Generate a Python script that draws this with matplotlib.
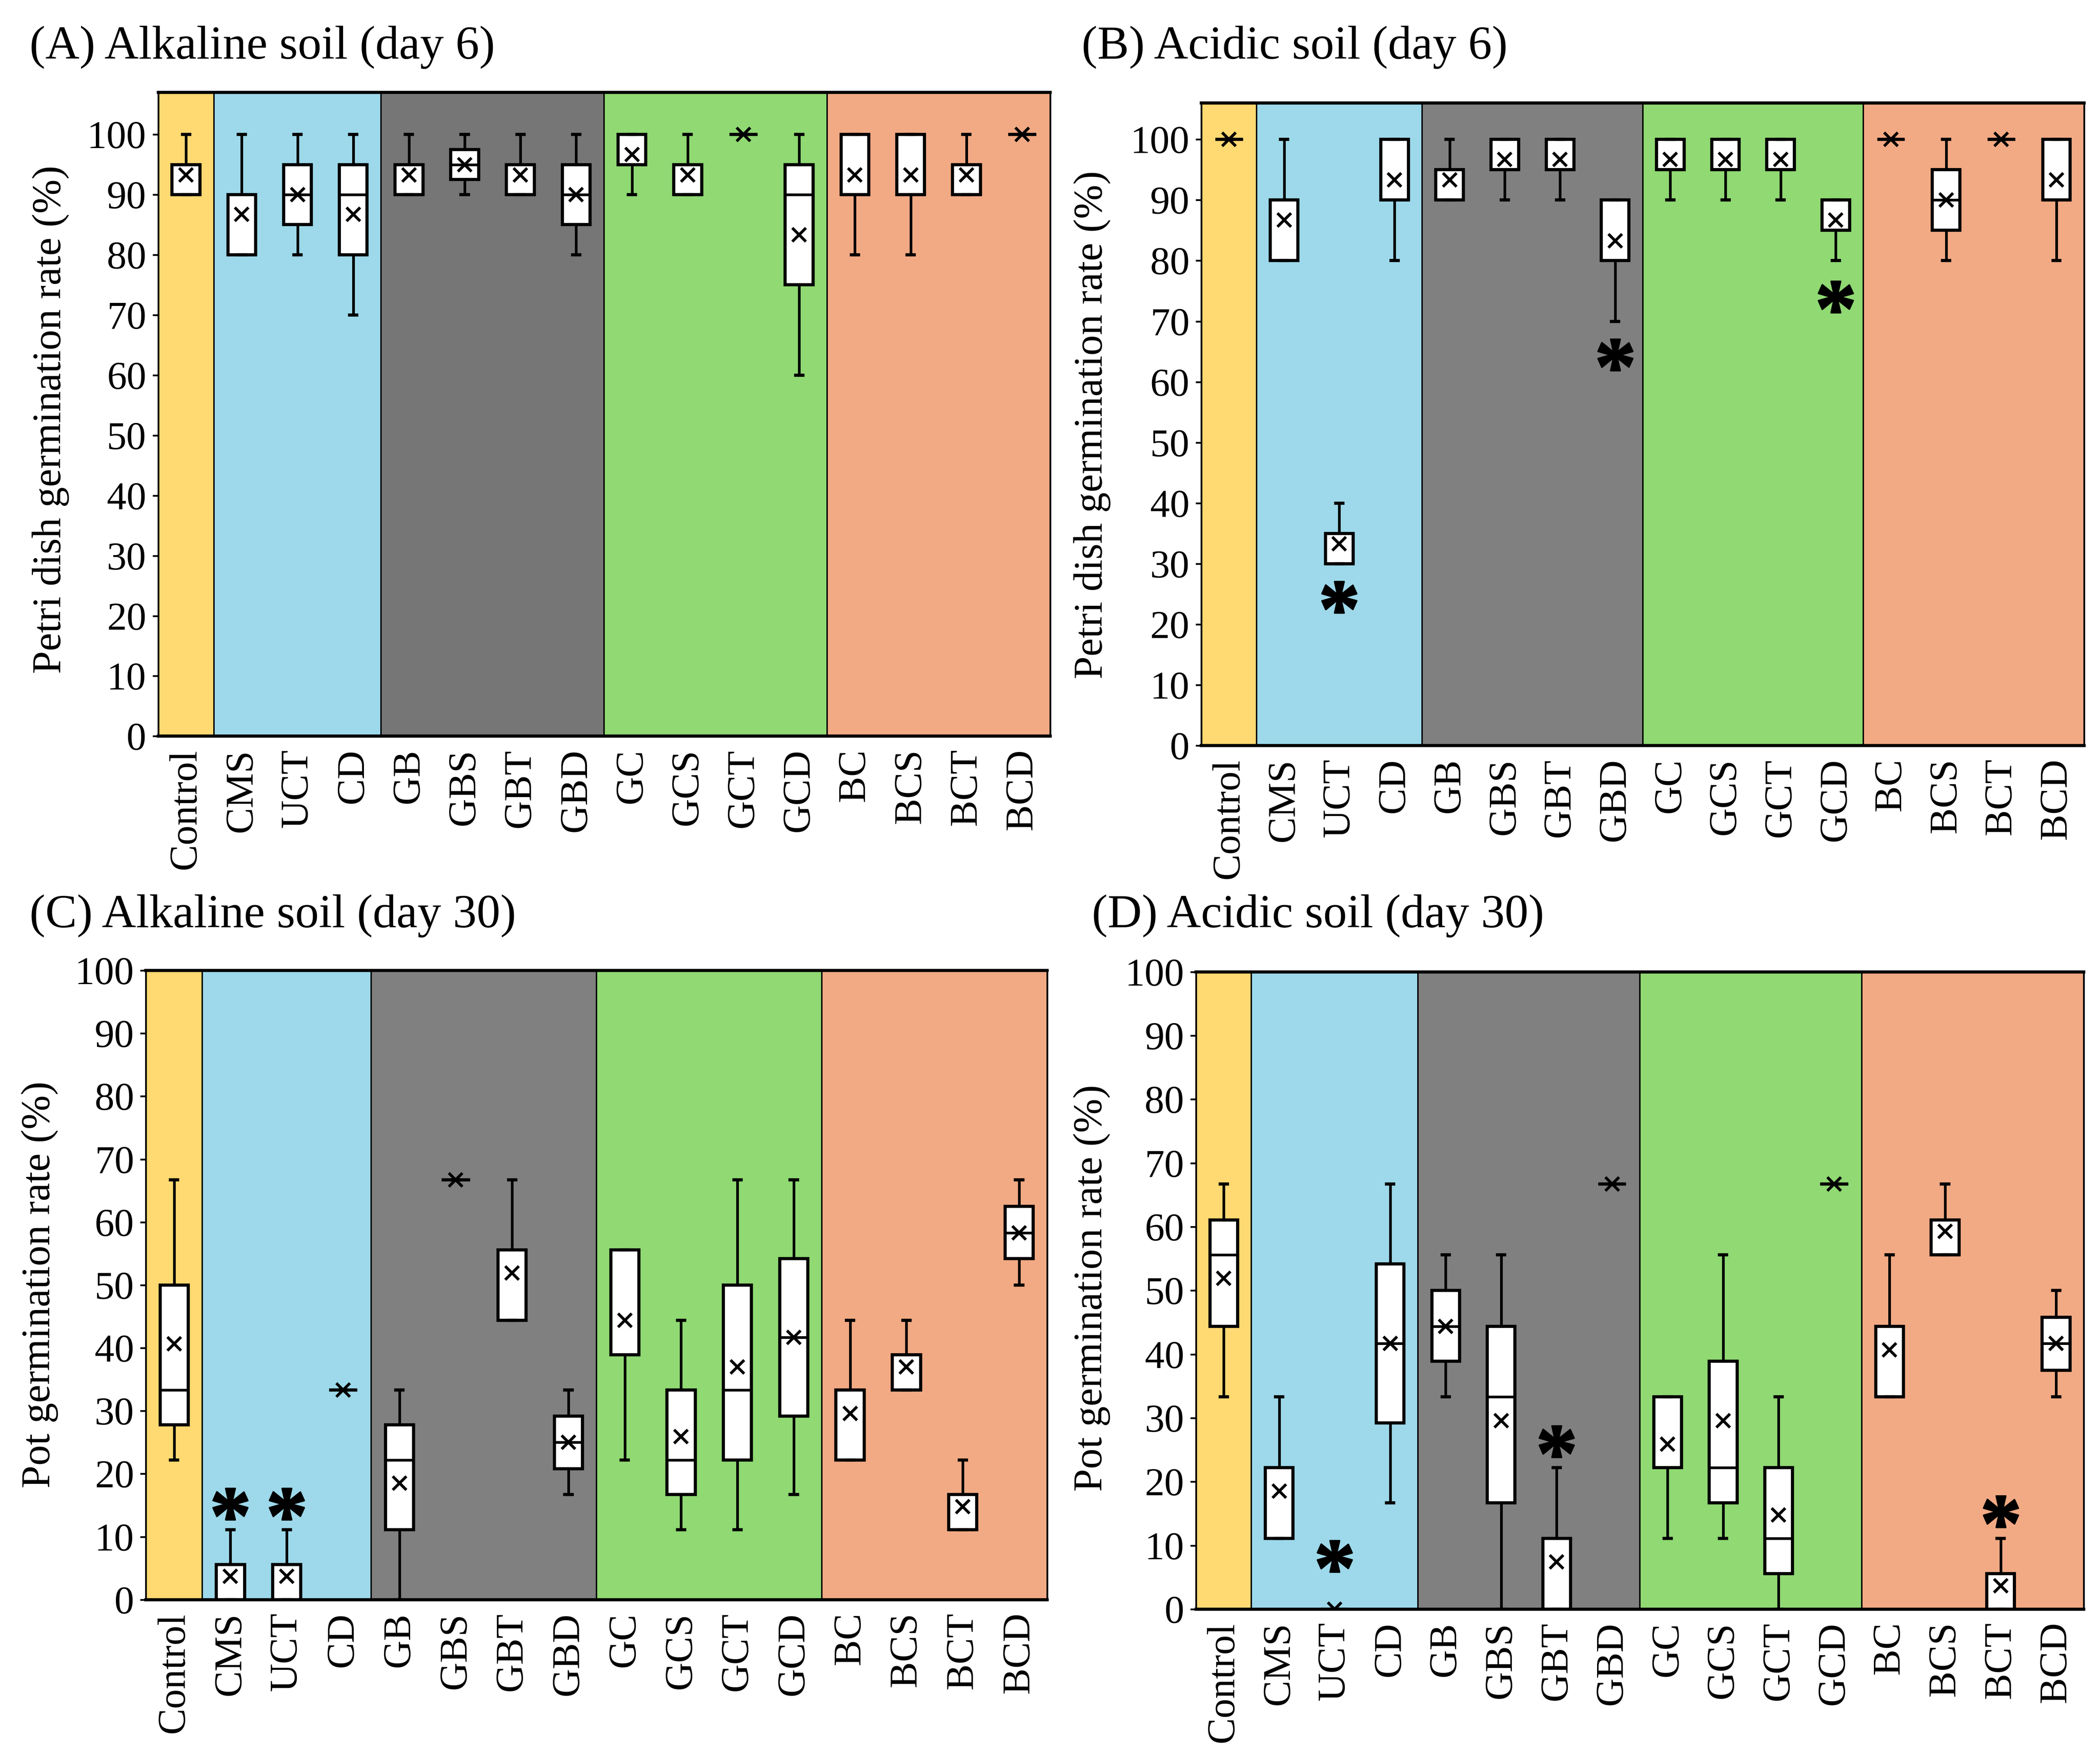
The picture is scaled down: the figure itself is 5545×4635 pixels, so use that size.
import numpy as np
import matplotlib
matplotlib.use('Agg')
import matplotlib.pyplot as plt
from matplotlib.textpath import TextPath
from matplotlib.font_manager import FontProperties
from matplotlib.path import Path

plt.rcParams['font.family'] = ['Liberation Serif', 'DejaVu Serif']

labels = ['Control', 'CMS', 'UCT', 'CD', 'GB', 'GBS', 'GBT', 'GBD',
          'GC', 'GCS', 'GCT', 'GCD', 'BC', 'BCS', 'BCT', 'BCD']

# (A) alkaline soil, day 6, petri dish
a_lo = [90, 80, 80, 70, 90, 90, 90, 80, 90, 90, 100, 60, 80, 80, 90, 100]
a_q1 = [90, 80, 85, 80, 90, 92.5, 90, 85, 95, 90, 100, 75, 90, 90, 90, 100]
a_med = [90, 80, 90, 90, 90, 95, 90, 90, 95, 90, 100, 90, 90, 90, 90, 100]
a_q3 = [95, 90, 95, 95, 95, 97.5, 95, 95, 100, 95, 100, 95, 100, 100, 95, 100]
a_hi = [100, 100, 100, 100, 100, 100, 100, 100, 100, 100, 100, 100, 100, 100, 100, 100]
a_mean = [93.3, 86.7, 90, 86.7, 93.3, 95, 93.3, 90, 96.7, 93.3, 100, 83.3, 93.3, 93.3, 93.3, 100]

# (B) acidic soil, day 6, petri dish
b_lo = [100, 80, 30, 80, 90, 90, 90, 70, 90, 90, 90, 80, 100, 80, 100, 80]
b_q1 = [100, 80, 30, 90, 90, 95, 95, 80, 95, 95, 95, 85, 100, 85, 100, 90]
b_med = [100, 80, 30, 90, 90, 95, 95, 80, 95, 95, 95, 85, 100, 90, 100, 90]
b_q3 = [100, 90, 35, 100, 95, 100, 100, 90, 100, 100, 100, 90, 100, 95, 100, 100]
b_hi = [100, 100, 40, 100, 100, 100, 100, 90, 100, 100, 100, 90, 100, 100, 100, 100]
b_mean = [100, 86.7, 33.3, 93.3, 93.3, 96.7, 96.7, 83.3, 96.7, 96.7, 96.7, 86.7, 100, 90, 100, 93.3]

# (C) alkaline soil, day 30, pot
c_lo = [22.2, 0, 0, 33.3, 0, 66.7, 44.4, 16.7, 22.2, 11.1, 11.1, 16.7, 22.2, 33.3, 11.1, 50]
c_q1 = [27.8, 0, 0, 33.3, 11.1, 66.7, 44.4, 20.8, 38.9, 16.7, 22.2, 29.2, 22.2, 33.3, 11.1, 54.2]
c_med = [33.3, 0, 0, 33.3, 22.2, 66.7, 44.4, 25, 38.9, 22.2, 33.3, 41.7, 22.2, 33.3, 11.1, 58.3]
c_q3 = [50, 5.6, 5.6, 33.3, 27.8, 66.7, 55.6, 29.2, 55.6, 33.3, 50, 54.2, 33.3, 38.9, 16.7, 62.5]
c_hi = [66.7, 11.1, 11.1, 33.3, 33.3, 66.7, 66.7, 33.3, 55.6, 44.4, 66.7, 66.7, 44.4, 44.4, 22.2, 66.7]
c_mean = [40.7, 3.7, 3.7, 33.3, 18.5, 66.7, 51.9, 25, 44.4, 25.9, 37, 41.7, 29.6, 37, 14.8, 58.3]

# (D) acidic soil, day 30, pot
d_lo = [33.3, 11.1, 0, 16.7, 33.3, 0, 0, 66.7, 11.1, 11.1, 0, 66.7, 33.3, 55.6, 0, 33.3]
d_q1 = [44.4, 11.1, 0, 29.2, 38.9, 16.7, 0, 66.7, 22.2, 16.7, 5.6, 66.7, 33.3, 55.6, 0, 37.5]
d_med = [55.6, 11.1, 0, 41.7, 44.4, 33.3, 0, 66.7, 22.2, 22.2, 11.1, 66.7, 33.3, 55.6, 0, 41.7]
d_q3 = [61.1, 22.2, 0, 54.2, 50, 44.4, 11.1, 66.7, 33.3, 38.9, 22.2, 66.7, 44.4, 61.1, 5.6, 45.8]
d_hi = [66.7, 33.3, 0, 66.7, 55.6, 55.6, 22.2, 66.7, 33.3, 55.6, 33.3, 66.7, 55.6, 66.7, 11.1, 50]
d_mean = [51.9, 18.5, 0, 41.7, 44.4, 29.6, 7.4, 66.7, 25.9, 29.6, 14.8, 66.7, 40.7, 59.3, 3.7, 41.7]

# significance marks (index, y)
a_star_idx, a_star_y = [], []
b_star_idx, b_star_y = [2, 7, 11], [24.5, 64.5, 74]
c_star_idx, c_star_y = [1, 2], [15.2, 15.2]
d_star_idx, d_star_y = [2, 6, 14], [8.3, 26.3, 15.3]

# group backgrounds: (first, last) slot
groups = [(0, 0), (1, 3), (4, 7), (8, 11), (12, 15)]
colors_ac = ['#FFD971', '#9DD9EA', '#767676', '#90D973', '#F2AA84']
colors_bd = ['#FFD971', '#9DD9EA', '#808080', '#90D973', '#F2AA84']

# asterisk marker built from the serif glyph, centered
tp = TextPath((0, 0), '*', prop=FontProperties(family='Liberation Serif', weight='bold'))
v = tp.vertices.copy()
codes = tp.codes
start = 0
for k, cd in enumerate(codes):
    if cd == Path.MOVETO:
        start = k
    elif cd == Path.CLOSEPOLY:
        v[k] = v[start]
ctr = (v.min(axis=0) + v.max(axis=0)) / 2
star = Path(v - ctr, codes)

fig = plt.figure(figsize=(5545 / 300, 4635 / 300), dpi=300)


def panel(rect, lo, q1, med, q3, hi, mean, ylim, cols, title, tpos, ylab, lpos,
          sidx, sy):
    ax = fig.add_axes(rect)
    for (g0, g1), c in zip(groups, cols):
        ax.axvspan(g0 - 0.5, g1 + 0.5, facecolor=c, edgecolor='none', zorder=0)
    for g0, g1 in groups[1:]:
        ax.axvline(g0 - 0.5, color='black', lw=0.9, zorder=1)
    stats = []
    for i in range(len(labels)):
        stats.append(dict(whislo=lo[i], q1=q1[i], med=med[i], q3=q3[i],
                          whishi=hi[i], mean=mean[i], fliers=[], label=labels[i]))
    ax.bxp(stats, positions=np.arange(len(labels)), widths=0.5, capwidths=0.13,
           showmeans=True, patch_artist=True,
           boxprops=dict(facecolor='white', edgecolor='black', linewidth=2.0),
           whiskerprops=dict(color='black', linewidth=1.7),
           capprops=dict(color='black', linewidth=2.0),
           medianprops=dict(color='black', linewidth=1.7),
           meanprops=dict(marker='x', markersize=8.5, markeredgewidth=1.8,
                          markeredgecolor='black'),
           zorder=3)
    if sidx:
        ax.plot(sidx, sy, linestyle='none', marker=star, markersize=22,
                color='black', zorder=4)
    ax.set_xlim(-0.5, len(labels) - 0.5)
    ax.set_ylim(*ylim)
    ax.set_yticks(np.arange(0, 101, 10))
    ax.set_xticks(np.arange(len(labels)))
    ax.set_xticklabels(labels, rotation=90)
    ax.tick_params(axis='x', length=0, labelsize=25, pad=8)
    ax.tick_params(axis='y', length=3.5, width=1.1, labelsize=25, pad=4)
    for s in ['left', 'right']:
        ax.spines[s].set_linewidth(1.1)
    for s in ['top', 'bottom']:
        ax.spines[s].set_linewidth(2.0)
    for s in ax.spines.values():
        s.set_zorder(5)
    fig.text(tpos[0], tpos[1], title, fontsize=30, ha='left', va='center')
    fig.text(lpos[0], lpos[1], ylab, fontsize=26, rotation=90, ha='center', va='center')
    return ax


panel([0.0753, 0.5805, 0.4247, 0.3669], a_lo, a_q1, a_med, a_q3, a_hi, a_mean,
      (0, 107), colors_ac, '(A) Alkaline soil (day 6)', (0.014, 0.973),
      'Petri dish germination rate (%)', (0.0242, 0.761), a_star_idx, a_star_y)
panel([0.5721, 0.5751, 0.4203, 0.3662], b_lo, b_q1, b_med, b_q3, b_hi, b_mean,
      (0, 106), colors_bd, '(B) Acidic soil (day 6)', (0.515, 0.973),
      'Petri dish germination rate (%)', (0.52, 0.758), b_star_idx, b_star_y)
panel([0.0695, 0.0885, 0.4292, 0.3585], c_lo, c_q1, c_med, c_q3, c_hi, c_mean,
      (0, 100), colors_bd, '(C) Alkaline soil (day 30)', (0.014, 0.478),
      'Pot germination rate (%)', (0.019, 0.268), c_star_idx, c_star_y)
panel([0.5695, 0.0831, 0.4228, 0.3631], d_lo, d_q1, d_med, d_q3, d_hi, d_mean,
      (0, 100), colors_bd, '(D) Acidic soil (day 30)', (0.52, 0.478),
      'Pot germination rate (%)', (0.52, 0.266), d_star_idx, d_star_y)

fig.savefig('out.png', dpi=300)
